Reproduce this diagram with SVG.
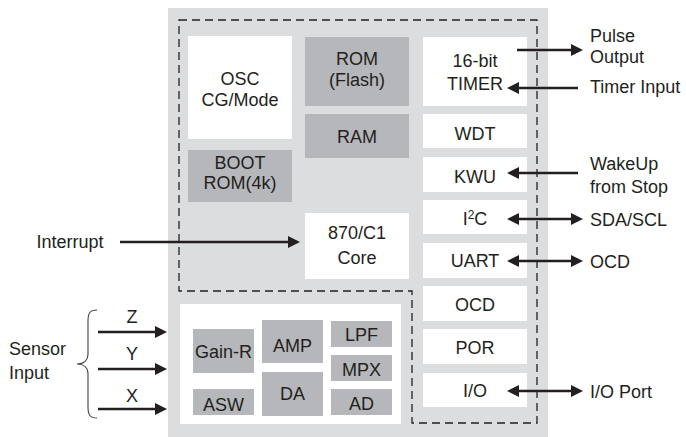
<svg xmlns="http://www.w3.org/2000/svg" width="686" height="437" viewBox="0 0 686 437">
<style>
text{font-family:"Liberation Sans",Arial,sans-serif;font-size:18px;fill:#231f20;}
.c{text-anchor:middle;}
.w{fill:#ffffff;}
.g{fill:#b6b7ba;}
.arr{stroke:#231f20;stroke-width:2.6;fill:none;}
.dash{stroke:#231f20;stroke-width:1.3;fill:none;stroke-dasharray:8 5;}
</style>
<defs>
<marker id="ah" markerUnits="userSpaceOnUse" markerWidth="12" markerHeight="12" refX="4" refY="6" orient="auto-start-reverse">
<path d="M0,0 L12,6 L0,12 z" fill="#231f20"/>
</marker>
</defs>
<rect id="chip" x="168" y="8" width="380" height="429" fill="#dcdddf"/>
<path class="dash" d="M179,20 H537 V423 H412 V291 H179 Z"/>

<g id="osc"><rect class="w" x="188" y="36" width="104" height="103"/><text class="c" x="240" y="85">OSC</text><text class="c" x="240" y="106">CG/Mode</text></g>
<g id="bootrom"><rect class="g" x="188" y="150" width="104" height="52"/><text class="c" x="240" y="169">BOOT</text><text class="c" x="240" y="189">ROM(4k)</text></g>
<g id="rom"><rect class="g" x="305" y="37" width="104" height="69"/><text class="c" x="357" y="65">ROM</text><text class="c" x="357" y="86">(Flash)</text></g>
<g id="ram"><rect class="g" x="305" y="114" width="104" height="44"/><text class="c" x="357" y="143">RAM</text></g>
<g id="core"><rect class="w" x="305" y="213" width="104" height="66"/><text class="c" x="357" y="239">870/C1</text><text class="c" x="357" y="264">Core</text></g>

<g id="timer"><rect class="w" x="423" y="37" width="104" height="69"/><text class="c" x="475" y="67">16-bit</text><text class="c" x="475" y="90">TIMER</text></g>
<g id="wdt"><rect class="w" x="423" y="114" width="104" height="34"/><text class="c" x="475" y="140">WDT</text></g>
<g id="kwu"><rect class="w" x="423" y="157" width="104" height="35"/><text class="c" x="475" y="183">KWU</text></g>
<g id="i2c"><rect class="w" x="423" y="200" width="104" height="34"/><text class="c" x="475" y="225">I<tspan dy="-6" font-size="12">2</tspan><tspan dy="6">C</tspan></text></g>
<g id="uart"><rect class="w" x="423" y="243" width="104" height="35"/><text class="c" x="475" y="267">UART</text></g>
<g id="ocd"><rect class="w" x="423" y="286" width="104" height="35"/><text class="c" x="475" y="311">OCD</text></g>
<g id="por"><rect class="w" x="423" y="329" width="104" height="35"/><text class="c" x="475" y="354">POR</text></g>
<g id="io"><rect class="w" x="423" y="373" width="104" height="34"/><text class="c" x="475" y="397">I/O</text></g>

<g id="sensor"><rect class="w" x="180" y="304" width="221" height="120"/>
<rect class="g" x="193" y="329" width="61" height="44"/><text class="c" x="223.5" y="358">Gain-R</text>
<rect class="g" x="193" y="389" width="61" height="26"/><text class="c" x="223.5" y="411">ASW</text>
<rect class="g" x="262" y="320" width="61" height="43"/><text class="c" x="292.5" y="352">AMP</text>
<rect class="g" x="262" y="372" width="61" height="44"/><text class="c" x="292.5" y="400">DA</text>
<rect class="g" x="331" y="321" width="61" height="26"/><text class="c" x="361.5" y="341">LPF</text>
<rect class="g" x="331" y="355" width="61" height="26"/><text class="c" x="361.5" y="376">MPX</text>
<rect class="g" x="331" y="389" width="61" height="26"/><text class="c" x="361.5" y="410">AD</text>
</g>

<g id="connectors">
<line class="arr" x1="120" y1="242" x2="292" y2="242" marker-end="url(#ah)"/>
<line class="arr" x1="98" y1="332" x2="159" y2="332" marker-end="url(#ah)"/>
<line class="arr" x1="98" y1="369" x2="159" y2="369" marker-end="url(#ah)"/>
<line class="arr" x1="98" y1="409" x2="159" y2="409" marker-end="url(#ah)"/>
<path d="M97,310 C90,310 88,313 88,321 L88,354 C88,360 84,364 77,364 C84,364 88,368 88,374 L88,407 C88,415 90,418 97,418" stroke="#444" stroke-width="1.1" fill="none"/>
<line class="arr" x1="517" y1="50" x2="575" y2="50" marker-end="url(#ah)"/>
<line class="arr" x1="578" y1="88" x2="515" y2="88" marker-end="url(#ah)"/>
<line class="arr" x1="578" y1="173" x2="515" y2="173" marker-end="url(#ah)"/>
<line class="arr" x1="515" y1="219" x2="575" y2="219" marker-start="url(#ah)" marker-end="url(#ah)"/>
<line class="arr" x1="515" y1="261" x2="575" y2="261" marker-start="url(#ah)" marker-end="url(#ah)"/>
<line class="arr" x1="515" y1="391" x2="575" y2="391" marker-start="url(#ah)" marker-end="url(#ah)"/>
</g>

<g id="labels">
<text class="c" x="70" y="248">Interrupt</text>
<text x="9" y="355">Sensor</text>
<text x="9" y="379">Input</text>
<text class="c" x="132" y="323">Z</text>
<text class="c" x="132" y="360">Y</text>
<text class="c" x="132" y="402">X</text>
<text x="590" y="42">Pulse</text>
<text x="590" y="63">Output</text>
<text x="590" y="93">Timer Input</text>
<text x="590" y="170">WakeUp</text>
<text x="590" y="193">from Stop</text>
<text x="590" y="226">SDA/SCL</text>
<text x="590" y="268">OCD</text>
<text x="590" y="398">I/O Port</text>
</g>
</svg>
